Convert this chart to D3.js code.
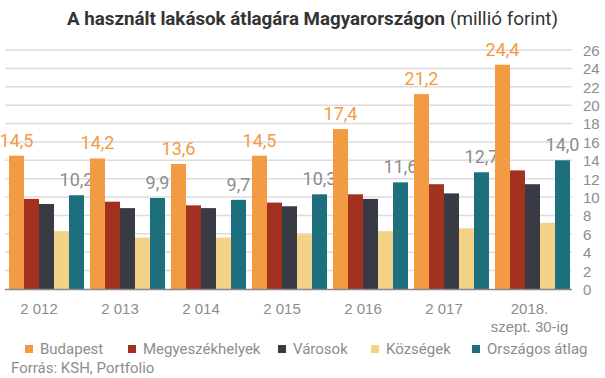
<!DOCTYPE html>
<html><head><meta charset="utf-8">
<script src="https://cdn.jsdelivr.net/npm/d3@7/dist/d3.min.js"></script>
<style>body{margin:0;background:#fff;}svg{display:block;font-family:Roboto,"Noto Sans",sans-serif;}</style>
</head><body>
<svg id="c" width="605" height="378"></svg>
<script>
const categories = ["2 012","2 013","2 014","2 015","2 016","2 017","2018.|szept. 30-ig"];
const seriesNames = ["Budapest","Megyeszékhelyek","Városok","Községek","Országos átlag"];
const budapest = [14.5,14.2,13.6,14.5,17.4,21.2,24.4];
const megye = [9.8,9.5,9.1,9.4,10.3,11.4,12.9];
const varosok = [9.25,8.8,8.8,9.0,9.8,10.4,11.4];
const kozsegek = [6.3,5.6,5.6,5.95,6.3,6.6,7.2];
const orszagos = [10.2,9.9,9.7,10.3,11.6,12.7,14.0];
const yTicks = [0,2,4,6,8,10,12,14,16,18,20,22,24,26];
const colors = ["#F39B42","#A23120","#383B44","#F4D389","#1E6F7D"];

const series = [budapest,megye,varosok,kozsegek,orszagos];
const svg = d3.select("#c");
const x0 = d3.scaleBand().domain(categories).range([5,572]).paddingInner(0).paddingOuter(0);
const x1 = d3.scaleBand().domain(d3.range(series.length)).range([4, x0.bandwidth()-2]).padding(0);
const y = d3.scaleLinear().domain([0,26]).range([289,50]);

// gridlines
svg.append("g").selectAll("line").data(yTicks.filter(t=>t>0)).join("line")
  .attr("x1",5).attr("x2",572).attr("y1",d=>y(d)).attr("y2",d=>y(d))
  .attr("stroke","#dcdcdc").attr("stroke-width",1.5);

// right axis labels
const yAxis = d3.axisRight(y).tickValues(yTicks).tickSize(0).tickPadding(0);
const ya = svg.append("g").attr("transform","translate(583,0)").call(yAxis);
ya.select(".domain").remove();
ya.selectAll("text").attr("fill","#8d8d8d").attr("font-size",15).attr("dy","0.36em");

// bars
const groups = svg.append("g").selectAll("g").data(categories).join("g")
  .attr("transform",d=>`translate(${x0(d)},0)`);
groups.selectAll("rect").data((d,i)=>series.map((s,k)=>({k,v:s[i]}))).join("rect")
  .attr("x",d=>x1(d.k)).attr("width",x1.bandwidth())
  .attr("y",d=>y(d.v)).attr("height",d=>y(0)-y(d.v))
  .attr("fill",d=>colors[d.k]);

// value labels
const fmt = v=>d3.format(".1f")(v).replace(".",",");
groups.each(function(d,i){
  const g = d3.select(this);
  [[0,budapest[i],"#F39B42"],[4,orszagos[i],"#8d8d8d"]].forEach(([k,v,c])=>{
    g.append("text").attr("x",x1(k)+x1.bandwidth()/2).attr("y",y(v)-9)
      .attr("text-anchor","middle").attr("font-size",18).attr("fill",c).text(fmt(v));
  });
});

// baseline
svg.append("line").attr("x1",5).attr("x2",572).attr("y1",289.5).attr("y2",289.5)
  .attr("stroke","#888").attr("stroke-width",1.5);

// x labels
const xa = svg.append("g").attr("transform","translate(0,289)")
  .call(d3.axisBottom(x0).tickSize(0).tickPadding(0).tickFormat(()=>""));
xa.select(".domain").remove();
xa.selectAll(".tick").each(function(d){
  const multi = d.includes("|");
  const t = d3.select(this).append("text").attr("fill","#8d8d8d").attr("font-size",15)
    .attr("text-anchor","middle");
  d.split("|").forEach((line,j)=>{
    t.append("tspan").attr("x",multi?-2:-6.5).attr("y",j===0?25:43).text(line);
  });
});

// title
svg.append("text").attr("x",67).attr("y",25).attr("font-size",18.5).attr("font-weight","bold")
  .attr("fill","#333").attr("textLength",378).attr("lengthAdjust","spacingAndGlyphs")
  .text("A használt lakások átlagára Magyarországon");
svg.append("text").attr("x",450).attr("y",25).attr("font-size",18.5)
  .attr("fill","#333").attr("textLength",108).attr("lengthAdjust","spacingAndGlyphs")
  .text("(millió forint)");

// legend
const legX = [25,128,278,371,472];
const leg = svg.append("g").selectAll("g").data(seriesNames).join("g")
  .attr("transform",(d,i)=>`translate(${legX[i]},349)`);
leg.append("rect").attr("x",0).attr("y",-4).attr("width",8).attr("height",8).attr("fill",(d,i)=>colors[i]);
leg.append("text").attr("x",15).attr("y",0).attr("dy","0.35em").attr("font-size",15)
  .attr("fill","#8d8d8d").text(d=>d);

svg.append("text").attr("x",11).attr("y",373).attr("font-size",15).attr("fill","#8d8d8d")
  .text("Forrás: KSH, Portfolio");
</script>
</body></html>
